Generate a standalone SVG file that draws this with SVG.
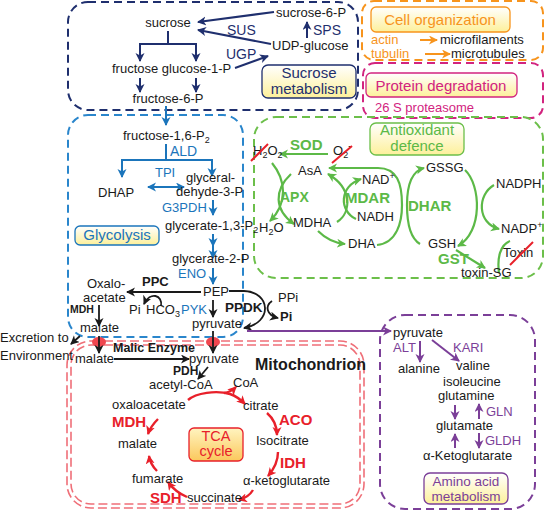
<svg xmlns="http://www.w3.org/2000/svg" width="548" height="512" viewBox="0 0 548 512">
<style>
text{font-family:"Liberation Sans",Arial,sans-serif;font-size:13px;fill:#1a1a1a}
.nv{fill:#1f2f6e}.bl{fill:#1b75bb}.gr{fill:#5cb947;font-weight:bold;font-size:15px}
.rd{fill:#e8202a;font-weight:bold;font-size:15px}.pu{fill:#7b3f98}.or{fill:#f7941d}.mg{fill:#d2247f}
.lbl{font-size:15px}.b{font-weight:bold}
.box{fill:none;stroke-width:2;stroke-dasharray:8 5}
.lb{fill:url(#yg);stroke-width:1.3}
.a-nv{stroke:#1f2f6e;stroke-width:2;fill:none;marker-end:url(#m-nv)}
.a-bl{stroke:#1b75bb;stroke-width:2;fill:none;marker-end:url(#m-bl)}
.a-k{stroke:#1a1a1a;stroke-width:1.8;fill:none;marker-end:url(#m-k)}
.a-gr{stroke:#5cb947;stroke-width:2.2;fill:none;marker-end:url(#m-gr)}
.a-rd{stroke:#e8202a;stroke-width:2.4;fill:none;marker-end:url(#m-rd)}
.a-pu{stroke:#7b3f98;stroke-width:2;fill:none;marker-end:url(#m-pu)}
.a-or{stroke:#f7941d;stroke-width:2;fill:none;marker-end:url(#m-or)}
.slash{stroke:#e8202a;stroke-width:2}
</style>
<defs>
<linearGradient id="yg" x1="0" y1="0" x2="0" y2="1"><stop offset="0" stop-color="#ffffff"/><stop offset="1" stop-color="#fdf09a"/></linearGradient>
<linearGradient id="og" x1="0" y1="0" x2="0" y2="1"><stop offset="0" stop-color="#fff4c0"/><stop offset="1" stop-color="#fbc85c"/></linearGradient>
<marker id="m-nv" markerUnits="userSpaceOnUse" markerWidth="10" markerHeight="10" refX="8" refY="4.5" orient="auto-start-reverse"><path d="M0,0 L9,4.5 L0,9 L2.5,4.5 Z" fill="#1f2f6e"/></marker>
<marker id="m-bl" markerUnits="userSpaceOnUse" markerWidth="10" markerHeight="10" refX="8" refY="4.5" orient="auto-start-reverse"><path d="M0,0 L9,4.5 L0,9 L2.5,4.5 Z" fill="#1b75bb"/></marker>
<marker id="m-k" markerUnits="userSpaceOnUse" markerWidth="10" markerHeight="10" refX="8" refY="4.5" orient="auto-start-reverse"><path d="M0,0 L9,4.5 L0,9 L2.5,4.5 Z" fill="#1a1a1a"/></marker>
<marker id="m-gr" markerUnits="userSpaceOnUse" markerWidth="10" markerHeight="10" refX="8" refY="4.5" orient="auto-start-reverse"><path d="M0,0 L9,4.5 L0,9 L2.5,4.5 Z" fill="#5cb947"/></marker>
<marker id="m-rd" markerUnits="userSpaceOnUse" markerWidth="10" markerHeight="10" refX="8" refY="4.5" orient="auto-start-reverse"><path d="M0,0 L9,4.5 L0,9 L2.5,4.5 Z" fill="#e8202a"/></marker>
<marker id="m-pu" markerUnits="userSpaceOnUse" markerWidth="10" markerHeight="10" refX="8" refY="4.5" orient="auto-start-reverse"><path d="M0,0 L9,4.5 L0,9 L2.5,4.5 Z" fill="#7b3f98"/></marker>
<marker id="m-or" markerUnits="userSpaceOnUse" markerWidth="10" markerHeight="10" refX="8" refY="4.5" orient="auto-start-reverse"><path d="M0,0 L9,4.5 L0,9 L2.5,4.5 Z" fill="#f7941d"/></marker>
</defs>
<rect width="548" height="512" fill="#ffffff"/>

<!-- compartments -->
<g id="compartments">
<rect class="box" x="68" y="2" width="290" height="108" rx="20" stroke="#1f2f6e"/>
<rect class="box" x="362" y="1" width="181" height="59" rx="12" stroke="#f7941d"/>
<rect class="box" x="363" y="63" width="180" height="55" rx="12" stroke="#d2247f"/>
<rect class="box" x="254" y="117" width="289" height="161" rx="22" stroke="#6cbf4a"/>
<rect class="box" x="68" y="115" width="175" height="222" rx="20" stroke="#2a86cc"/>
<rect class="box" x="380" y="315" width="155" height="194" rx="25" stroke="#7b3f98"/>
<rect x="67" y="341" width="297" height="167" rx="24" fill="none" stroke="#ef6f78" stroke-width="1.6" stroke-dasharray="9 4"/>
<rect x="71" y="345" width="289" height="159" rx="20" fill="none" stroke="#ef6f78" stroke-width="1.6" stroke-dasharray="9 4"/>
</g>

<!-- labels -->
<g id="label-sucrose"><rect class="lb" x="262" y="65" width="94" height="33" rx="6" stroke="#1f2f6e"/><text class="nv lbl" x="309" y="78" text-anchor="middle">Sucrose</text><text class="nv lbl" x="309" y="94" text-anchor="middle">metabolism</text></g>
<g id="label-cell"><rect class="lb" x="371" y="7" width="139" height="25" rx="5" stroke="#f7941d"/><text class="or lbl" x="440" y="25" text-anchor="middle">Cell organization</text></g>
<g id="label-protein"><rect class="lb" x="366" y="73" width="151" height="24" rx="5" stroke="#d2247f"/><text class="mg lbl" x="441" y="91" text-anchor="middle">Protein degradation</text></g>
<g id="label-antiox"><rect class="lb" x="370" y="123" width="94" height="32" rx="6" stroke="#6cbf4a"/><text class="lbl" style="fill:#5cb947" x="417" y="135" text-anchor="middle">Antioxidant</text><text class="lbl" style="fill:#5cb947" x="417" y="151" text-anchor="middle">defence</text></g>
<g id="label-glycolysis"><rect class="lb" x="75" y="226" width="84" height="19" rx="5" stroke="#1b75bb"/><text class="bl lbl" x="117" y="240" text-anchor="middle">Glycolysis</text></g>
<g id="label-tca"><rect x="189" y="428" width="54" height="33" rx="5" fill="url(#og)" stroke="#e8202a" stroke-width="1.3"/><text style="fill:#e8202a;font-size:14.5px" x="216" y="441" text-anchor="middle">TCA</text><text style="fill:#e8202a;font-size:14.5px" x="216" y="456" text-anchor="middle">cycle</text></g>
<g id="label-amino"><rect class="lb" x="424" y="473" width="84" height="31" rx="6" stroke="#7b3f98"/><text class="pu" style="font-size:13.5px" x="466" y="486" text-anchor="middle">Amino acid</text><text class="pu" style="font-size:13.5px" x="466" y="501" text-anchor="middle">metabolism</text></g>

<!-- connectors -->
<g id="connectors">
<!-- sucrose -->
<line class="a-nv" x1="307" y1="38" x2="307" y2="22"/>
<line class="a-nv" x1="274" y1="12" x2="198" y2="22"/>
<line class="a-nv" x1="271" y1="44" x2="198" y2="30"/>
<line class="a-nv" x1="235" y1="68" x2="268" y2="56"/>
<path d="M168,31 V44 M139,44 H197" stroke="#1f2f6e" stroke-width="2" fill="none"/>
<line class="a-nv" x1="140" y1="44" x2="140" y2="61"/>
<line class="a-nv" x1="196" y1="44" x2="196" y2="61"/>
<line class="a-nv" x1="140" y1="78" x2="140" y2="92"/>
<line class="a-nv" x1="196" y1="78" x2="196" y2="92"/>
<!-- glycolysis -->
<line class="a-bl" x1="166" y1="106" x2="166" y2="125"/>
<path d="M166,144 V160 M121,160 H213" stroke="#1b75bb" stroke-width="2" fill="none"/>
<line class="a-bl" x1="122" y1="160" x2="122" y2="177"/>
<line class="a-bl" x1="212" y1="160" x2="212" y2="176"/>
<line class="a-bl" x1="148" y1="187" x2="184" y2="187" style="marker-start:url(#m-bl)"/>
<line class="a-bl" x1="213" y1="200" x2="213" y2="215"/>
<line class="a-bl" x1="213" y1="234" x2="213" y2="246"/>
<line class="a-bl" x1="213" y1="245" x2="213" y2="258"/>
<line class="a-bl" x1="213" y1="268" x2="213" y2="284"/>
<line class="a-k" x1="201" y1="292" x2="127" y2="292"/>
<path class="a-k" d="M161,306 C163,295 150,291 144,304"/>
<line class="a-k" x1="213" y1="300" x2="213" y2="317"/>
<path class="a-k" d="M229,291 H244 C271,292 273,323 244,328"/>
<path class="a-k" d="M272,301 C265,306 266,315 278,318"/>
<line class="a-k" x1="99" y1="305" x2="99" y2="326"/>
<line class="a-k" x1="80" y1="336" x2="71" y2="344"/>
<ellipse cx="99" cy="342" rx="7" ry="5" fill="#f0464f"/>
<ellipse cx="213" cy="342" rx="7" ry="5" fill="#f0464f"/>
<line class="a-k" x1="99" y1="336" x2="99" y2="353"/>
<line class="a-k" x1="213" y1="331" x2="213" y2="353"/>
<line class="a-k" x1="114" y1="359" x2="189" y2="359"/>
<line class="a-k" x1="208" y1="367" x2="198" y2="379"/>
<!-- TCA -->
<path class="a-rd" d="M188,400 C196,393 216,390 230,394 C236,396 240,399 245,404"/>
<path class="a-rd" d="M224,393 Q231,392 236,387"/>
<path class="a-rd" d="M267,413 C274,419 277,426 277,435"/>
<path class="a-rd" d="M278,452 C278,462 274,469 268,476"/>
<path class="a-rd" d="M253,490 C250,495 246,498 239,500"/>
<path class="a-rd" d="M187,497 C180,494 173,489 168,482"/>
<path class="a-rd" d="M157,471 C153,467 150,463 149,456"/>
<path class="a-rd" d="M158,419 C154,423 150,428 148,434"/>
<!-- antioxidant -->
<line class="a-gr" x1="328" y1="154" x2="280" y2="154"/>
<path class="a-gr" d="M272,163 C286,180 288,203 270,221"/>
<path class="a-gr" d="M291,174 C274,190 274,210 294,224"/>
<path class="a-gr" d="M318,231 C325,238 334,243 345,244"/>
<path class="a-gr" d="M337,222 C352,212 352,188 328,174"/>
<path class="a-gr" d="M356,219 C339,211 339,186 361,179"/>
<path class="a-gr" d="M377,245 C397,243 402,222 402,205 C402,183 397,168 378,168 L329,168"/>
<path class="a-gr" d="M420,244 C410,238 407,222 407,205 C407,186 412,171 424,168"/>
<path class="a-gr" d="M465,170 C481,185 483,232 458,246"/>
<path class="a-gr" d="M494,185 C477,195 477,223 499,229"/>
<line class="a-gr" x1="456" y1="250" x2="485" y2="268"/>
<path d="M510,241 C500,245 497,258 499,273" stroke="#5cb947" stroke-width="2.2" fill="none"/>
<!-- amino acid -->
<line class="a-pu" x1="247" y1="331" x2="391" y2="331"/>
<line class="a-pu" x1="420" y1="341" x2="420" y2="362"/>
<line class="a-pu" x1="432" y1="340" x2="459" y2="361"/>
<line class="a-pu" x1="455" y1="405" x2="455" y2="419"/>
<line class="a-pu" x1="479" y1="419" x2="479" y2="404"/>
<line class="a-pu" x1="455" y1="448" x2="455" y2="434"/>
<line class="a-pu" x1="479" y1="433" x2="479" y2="448"/>
<!-- cell organization -->
<line class="a-or" x1="420" y1="40" x2="437" y2="40"/>
<line class="a-or" x1="425" y1="54" x2="450" y2="54"/>
</g>

<!-- sucrose nodes -->
<g id="n-sucrose"><text x="168" y="27" text-anchor="middle">sucrose</text></g>
<g id="n-sucrose6p"><text x="276" y="17">sucrose-6-P</text></g>
<g id="n-udpglc"><text x="272" y="50">UDP-glucose</text></g>
<g id="e-sps"><text class="nv" style="font-size:14px" x="313" y="35">SPS</text></g>
<g id="e-sus"><text class="nv" style="font-size:14px" x="227" y="35">SUS</text></g>
<g id="e-ugp"><text class="nv" style="font-size:14px" x="226" y="59">UGP</text></g>
<g id="n-fru-glc1p"><text x="112" y="73">fructose glucose-1-P</text></g>
<g id="n-fru6p"><text x="168" y="103" text-anchor="middle">fructose-6-P</text></g>

<!-- glycolysis nodes -->
<g id="n-fbp"><text x="123" y="140">fructose-1,6-P<tspan font-size="9" dy="3">2</tspan></text></g>
<g id="e-ald"><text class="bl" style="font-size:14px" x="170" y="156">ALD</text></g>
<g id="e-tpi"><text class="bl" x="155" y="177">TPI</text></g>
<g id="n-dhap"><text x="98" y="197">DHAP</text></g>
<g id="n-g3p"><text x="186" y="182">glyceral-</text><text x="176" y="196">dehyde-3-P</text></g>
<g id="e-g3pdh"><text class="bl" x="162" y="212">G3PDH</text></g>
<g id="n-bpg"><text x="165" y="230">glycerate-1,3-P<tspan font-size="9" dy="3">2</tspan></text></g>
<g id="n-2pg"><text x="172" y="263">glycerate-2-P</text></g>
<g id="e-eno"><text class="bl" x="178" y="278">ENO</text></g>
<g id="n-pep"><text x="203" y="296">PEP</text></g>
<g id="e-ppc"><text class="b" x="142" y="286">PPC</text></g>
<g id="n-oaa"><text x="87" y="288">Oxalo-</text><text x="83" y="302">acetate</text></g>
<g id="n-pi1"><text x="129" y="314">Pi</text></g>
<g id="n-hco3"><text x="146" y="314">HCO<tspan font-size="9" dy="3">3</tspan></text></g>
<g id="e-pyk"><text class="bl" x="181" y="314">PYK</text></g>
<g id="n-pyr1"><text x="192" y="328">pyruvate</text></g>
<g id="e-ppdk"><text class="b" style="font-size:13.5px" x="225" y="312">PPDK</text></g>
<g id="n-ppi"><text x="278" y="302">PPi</text></g>
<g id="n-pi2"><text class="b" x="280" y="321">Pi</text></g>
<g id="e-mdh1"><text class="b" style="font-size:10.5px" x="70" y="313">MDH</text></g>
<g id="n-mal1"><text x="80" y="332">malate</text></g>
<g id="n-excretion"><text x="0" y="342">Excretion to</text><text x="0" y="360">Environment</text></g>

<!-- mitochondrion nodes -->
<g id="n-mal2"><text x="75" y="363">malate</text></g>
<g id="e-me"><text class="b" style="font-size:12.5px" x="113" y="352">Malic Enzyme</text></g>
<g id="n-pyr2"><text x="189" y="363">pyruvate</text></g>
<g id="e-pdh"><text class="b" style="font-size:12px" x="173" y="375">PDH</text></g>
<g id="n-acoa"><text x="149" y="389">acetyl-CoA</text></g>
<g id="n-coa"><text x="233" y="387">CoA</text></g>
<g id="t-mito"><text class="b" style="font-size:16px" x="255" y="370">Mitochondrion</text></g>
<g id="n-oaa2"><text x="112" y="409">oxaloacetate</text></g>
<g id="n-cit"><text x="243" y="410">citrate</text></g>
<g id="n-icit"><text x="256" y="445">Isocitrate</text></g>
<g id="n-akg"><text x="243" y="485">α-ketoglutarate</text></g>
<g id="n-suc"><text x="187" y="502">succinate</text></g>
<g id="n-fum"><text x="132" y="483">fumarate</text></g>
<g id="n-mal3"><text x="118" y="448">malate</text></g>
<g id="e-aco"><text class="rd" x="279" y="425">ACO</text></g>
<g id="e-idh"><text class="rd" x="280" y="468">IDH</text></g>
<g id="e-mdh2"><text class="rd" x="112" y="427">MDH</text></g>
<g id="e-sdh"><text class="rd" x="150" y="503">SDH</text></g>

<!-- antioxidant nodes -->
<g id="n-h2o2"><text x="253" y="155">H<tspan font-size="9" dy="3">2</tspan><tspan dy="-3">O</tspan><tspan font-size="9" dy="3">2</tspan></text><line class="slash" x1="251" y1="161" x2="268" y2="144"/></g>
<g id="n-o2"><text x="333" y="155">O<tspan font-size="9" dy="3">2</tspan><tspan font-size="10" dy="-9">-</tspan></text><line class="slash" x1="332" y1="163" x2="352" y2="146"/></g>
<g id="e-sod"><text class="gr" x="290" y="150">SOD</text></g>
<g id="n-asa"><text x="298" y="175">AsA</text></g>
<g id="e-apx"><text class="gr" style="font-size:14px" x="280" y="202">APX</text></g>
<g id="n-h2o"><text x="259" y="232">H<tspan font-size="9" dy="3">2</tspan><tspan dy="-3">O</tspan></text></g>
<g id="n-mdha"><text x="293" y="227">MDHA</text></g>
<g id="n-dha"><text x="348" y="248">DHA</text></g>
<g id="e-mdar"><text class="gr" x="345" y="203">MDAR</text></g>
<g id="n-nad"><text x="362" y="184">NAD<tspan font-size="9" dy="-5">+</tspan></text></g>
<g id="n-nadh"><text x="357" y="221">NADH</text></g>
<g id="e-dhar"><text class="gr" x="408" y="211">DHAR</text></g>
<g id="n-gssg"><text x="426" y="172">GSSG</text></g>
<g id="n-gsh"><text x="428" y="248">GSH</text></g>
<g id="n-nadph"><text x="496" y="188">NADPH</text></g>
<g id="n-nadp"><text x="501" y="233">NADP<tspan font-size="9" dy="-5">+</tspan></text></g>
<g id="e-gst"><text class="gr" x="438" y="264">GST</text></g>
<g id="n-toxinsg"><text x="461" y="277">toxin-SG</text></g>
<g id="n-toxin"><text x="503" y="257">Toxin</text><line class="slash" x1="510" y1="265" x2="533" y2="242"/></g>

<!-- amino acid nodes -->
<g id="n-pyr3"><text x="393" y="337">pyruvate</text></g>
<g id="e-alt"><text class="pu" x="393" y="352">ALT</text></g>
<g id="e-kari"><text class="pu" x="453" y="352">KARI</text></g>
<g id="n-ala"><text x="398" y="373">alanine</text></g>
<g id="n-val"><text x="456" y="370">valine</text></g>
<g id="n-ile"><text x="443" y="386">isoleucine</text></g>
<g id="n-gln"><text x="438" y="400">glutamine</text></g>
<g id="e-gln"><text class="pu" x="486" y="416">GLN</text></g>
<g id="n-glu"><text x="436" y="430">glutamate</text></g>
<g id="e-gldh"><text class="pu" x="485" y="445">GLDH</text></g>
<g id="n-akg2"><text x="423" y="460">α-Ketoglutarate</text></g>

<!-- cell organization / protein nodes -->
<g id="n-actin"><text class="or" x="371" y="44">actin</text></g>
<g id="n-mf"><text x="440" y="44">microfilaments</text></g>
<g id="n-tubulin"><text class="or" x="371" y="58">tubulin</text></g>
<g id="n-mt"><text x="451" y="58">microtubules</text></g>
<g id="n-26s"><text class="mg" x="375" y="112">26 S proteasome</text></g>
</svg>
